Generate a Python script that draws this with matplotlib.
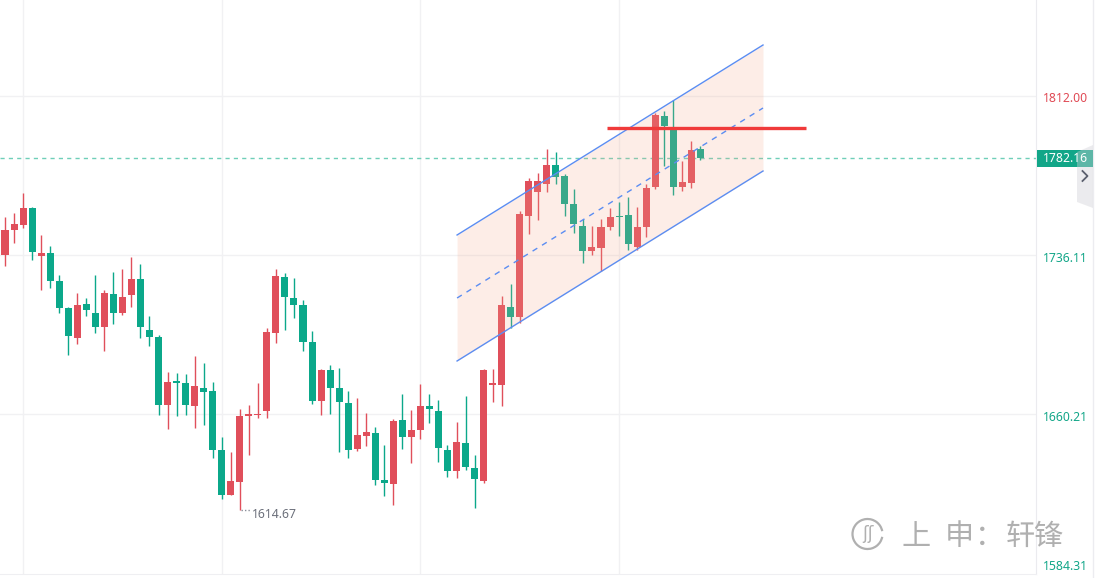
import matplotlib
matplotlib.use("Agg")
import matplotlib.pyplot as plt
import numpy as np
from matplotlib.patches import Rectangle, Polygon, Arc

# ---------------- data ----------------
opens = [1736.25, 1748.16, 1750.55, 1758.50, 1735.78, 1737.06, 1723.72, 1710.86, 1696.71, 1712.76,
         1708.47, 1701.95, 1717.53, 1708.62, 1717.19, 1724.67, 1700.38, 1697.04, 1664.78, 1676.07,
         1675.12, 1664.31, 1672.74, 1671.31, 1643.20, 1621.90, 1628.10, 1659.54, 1659.88, 1661.93,
         1699.09, 1725.63, 1715.62, 1712.29, 1694.66, 1666.69, 1681.32, 1672.74, 1665.59, 1643.82,
         1650.02, 1651.30, 1628.91, 1627.14, 1657.49, 1649.54, 1652.87, 1664.17, 1661.78, 1643.20,
         1633.34, 1646.53, 1634.62, 1628.57, 1674.31, 1674.31, 1711.19, 1706.71, 1754.83, 1766.27,
         1770.08, 1778.99, 1773.75, 1760.41, 1749.93, 1738.16, 1739.59, 1749.59, 1754.69, 1755.17,
         1740.06, 1749.59, 1768.65, 1802.34, 1795.67, 1768.65, 1770.56, 1786.61]
highs = [1754.22, 1756.12, 1765.65, 1758.98, 1745.64, 1740.40, 1726.58, 1711.33, 1718.00, 1715.62,
         1726.58, 1719.43, 1728.01, 1729.44, 1735.16, 1731.82, 1707.05, 1697.85, 1680.36, 1679.75,
         1679.27, 1687.84, 1684.65, 1675.60, 1649.39, 1642.25, 1662.88, 1664.64, 1675.12, 1701.19,
         1729.44, 1727.53, 1725.15, 1714.67, 1699.90, 1681.79, 1683.70, 1682.27, 1671.31, 1667.97,
         1660.83, 1654.16, 1645.58, 1657.97, 1670.03, 1662.26, 1674.64, 1670.03, 1667.02, 1645.58,
         1656.54, 1668.93, 1640.82, 1681.79, 1681.79, 1716.58, 1722.29, 1757.07, 1772.80, 1775.18,
         1786.61, 1785.18, 1774.70, 1767.56, 1753.26, 1749.93, 1753.26, 1758.50, 1761.36, 1763.74,
         1758.98, 1769.94, 1803.91, 1804.72, 1810.00, 1780.90, 1790.43, 1788.04]
lows = [1731.01, 1741.97, 1749.12, 1733.87, 1719.58, 1720.53, 1708.62, 1688.61, 1693.85, 1707.19,
        1699.09, 1690.51, 1703.38, 1707.67, 1711.48, 1696.71, 1692.89, 1660.02, 1653.35, 1659.54,
        1660.02, 1653.83, 1655.26, 1639.53, 1619.99, 1621.90, 1614.67, 1640.96, 1658.59, 1658.59,
        1694.32, 1700.52, 1706.24, 1690.51, 1665.26, 1660.02, 1660.50, 1642.39, 1639.53, 1642.87,
        1645.11, 1626.67, 1621.43, 1617.14, 1643.82, 1637.15, 1648.58, 1656.21, 1637.63, 1630.48,
        1630.00, 1633.81, 1615.71, 1627.62, 1666.21, 1664.31, 1701.19, 1703.57, 1746.26, 1752.93,
        1766.27, 1770.08, 1754.83, 1746.73, 1732.44, 1736.25, 1728.63, 1748.16, 1745.31, 1738.64,
        1738.64, 1744.83, 1767.70, 1778.51, 1764.84, 1766.75, 1768.17, 1781.50]
closes = [1748.02, 1750.88, 1758.50, 1737.68, 1737.06, 1723.87, 1711.00, 1697.66, 1712.29, 1710.05,
          1701.95, 1718.00, 1708.62, 1716.10, 1724.67, 1701.95, 1697.18, 1664.78, 1675.60, 1675.27,
          1664.78, 1673.69, 1670.98, 1643.34, 1621.90, 1628.43, 1659.40, 1660.35, 1660.35, 1699.42,
          1726.10, 1716.24, 1712.43, 1694.80, 1666.69, 1681.32, 1672.89, 1666.21, 1643.34, 1650.35,
          1651.78, 1629.05, 1627.62, 1657.02, 1649.54, 1652.73, 1664.17, 1662.88, 1644.29, 1633.34,
          1647.01, 1635.24, 1629.53, 1681.32, 1675.12, 1712.29, 1706.71, 1755.64, 1771.37, 1771.37,
          1778.99, 1773.42, 1760.55, 1751.02, 1738.16, 1739.92, 1749.45, 1754.22, 1754.22, 1741.49,
          1749.45, 1768.03, 1802.81, 1797.72, 1768.65, 1770.89, 1786.14, 1782.16]

axis_ticks = [1812.01, 1736.11, 1660.21, 1584.31]
axis_labels = ["1812.00", "1736.11", "1660.21", "1584.31"]
last_price = 1782.16
low_price = 1614.67
low_index = 26

channel_x = [50.06, 83.94]
channel_upper = [1745.64, 1836.17]
channel_lower = [1685.61, 1776.13]
channel_mid = [1715.62, 1806.15]

resist_x = [66.63, 88.7]
resist_y = 1796.6

# ---------------- style ----------------
RED = "#e04f5b"
GREEN = "#0ba88a"
TEAL = "#12a688"
BLUE = "#5b8df2"

W, H = 1099, 578
fig = plt.figure(figsize=(W / 100, H / 100), dpi=100)
fig.patch.set_facecolor("white")

ax_right_px = 1036
ax_bottom_px = 573.6
ax = fig.add_axes([0, (H - ax_bottom_px) / H, ax_right_px / W, ax_bottom_px / H])
ax.set_facecolor("white")

n = len(opens)
x = np.arange(n)
o = np.array(opens); c = np.array(closes); h = np.array(highs); l = np.array(lows)
up = c >= o
cols = np.where(up, RED, GREEN)

ax.vlines(x, l, h, colors=cols, linewidth=1.0, zorder=3)
body_bottom = np.minimum(o, c)
body_h = np.maximum(np.abs(c - o), 0.6)
ax.bar(x, body_h, bottom=body_bottom, width=0.78, color=cols, linewidth=0, zorder=3)

ax.set_xlim(-0.554, 114.17)
ax.set_ylim(1584.31, 1857.61)

# grid
ax.set_xticks([2, 24, 46, 68])
ax.set_yticks(axis_ticks[:-1])
ax.grid(True, color="#f1f1f3", linewidth=1.0, zorder=0)
ax.tick_params(length=0, labelbottom=False, labelleft=False)
for s in ["top", "left"]:
    ax.spines[s].set_visible(False)
ax.spines["right"].set_color("#ebebef")
ax.spines["bottom"].set_color("#efeff2")

# channel
xs = np.linspace(channel_x[0], channel_x[1], 50)
up_line = np.interp(xs, channel_x, channel_upper)
lo_line = np.interp(xs, channel_x, channel_lower)
ax.fill_between(xs, lo_line, up_line, color="#f5a88a", alpha=0.2, linewidth=0, zorder=4)
ax.plot(channel_x, channel_upper, color=BLUE, linewidth=1.0, zorder=5)
ax.plot(channel_x, channel_lower, color=BLUE, linewidth=1.0, zorder=5)
ax.plot(channel_x, channel_mid, color=BLUE, linewidth=1.0, dashes=(4, 4), zorder=5)

# resistance line
ax.plot(resist_x, [resist_y, resist_y], color="#f03a3a", linewidth=2.4, zorder=6,
        solid_capstyle="butt")

# last price dashed line
ax.axhline(last_price, color="#6fcfb8", linewidth=1.0, dashes=(3, 3), zorder=2)

# low marker
ax.plot([low_index + 0.1, low_index + 1.2], [low_price, low_price], color="#8a8e99",
        linewidth=1.0, linestyle=(0, (1, 1.5)), zorder=6)
ax.text(low_index + 1.3, low_price + 0.9, f"{low_price:.2f}", color="#6b6f7a",
        fontsize=8.8, family="Noto Sans", va="top", ha="left", zorder=6)

# ---------------- right price axis ----------------
def fy(price):
    disp = ax.transData.transform((0, price))
    return fig.transFigure.inverted().transform(disp)[1]

label_x = 1043 / W
label_colors = ["#e04a55", TEAL, TEAL, TEAL]
for t, lab, col in zip(axis_ticks, axis_labels, label_colors):
    yy = fy(t) - 3 / H
    if t == axis_ticks[-1]:
        yy = fy(t) + 7.5 / H
    fig.text(label_x, yy, lab, color=col, fontsize=8.8, family="Noto Sans",
             ha="left", va="center")

# last price box
yb = fy(last_price)
fig.patches.append(Rectangle((1036.5 / W, yb - 8.5 / H), 56 / W, 17 / H,
                             transform=fig.transFigure, facecolor=TEAL,
                             edgecolor="none", zorder=5))
fig.text(label_x, yb - 0.5 / H, f"{last_price:.2f}", color="white", fontsize=8.8,
         family="Noto Sans", ha="left", va="center", zorder=9)

# right border line
fig.add_artist(plt.Line2D([1093 / W, 1093 / W], [0, 1], color="#ececf0", linewidth=1.0))

# collapse tab with chevron
tab = [(1077, 152), (1093, 145), (1093, 208), (1077, 202)]
fig.patches.append(Polygon([(px / W, 1 - py / H) for px, py in tab], closed=True,
                           transform=fig.transFigure, facecolor="#cfcfd6",
                           edgecolor="none", alpha=0.4, zorder=7))
chev = [(1082.5, 171), (1087.5, 176), (1082.5, 181)]
fig.add_artist(plt.Line2D([p[0] / W for p in chev], [1 - p[1] / H for p in chev],
                          color="#5a5f6d", linewidth=1.3, zorder=8))

# ---------------- watermark ----------------
wm_col = "#b0b0b0"
cx, cy, r = 867.5, 534, 15
fig.patches.append(Arc((cx / W, 1 - cy / H), 2 * r / W, 2 * r / H, theta1=20, theta2=340,
                       transform=fig.transFigure, color=wm_col, linewidth=1.6, zorder=8))
fig.text(cx / W, 1 - cy / H, "ʃʃ", color=wm_col, fontsize=12, family="DejaVu Sans",
         ha="center", va="center", zorder=8)
for ch, px in [("上", 916), ("申", 959), ("：", 989), ("轩", 1020), ("锋", 1048)]:
    fig.text(px / W, 1 - 537 / H, ch, color=wm_col, fontsize=21,
             family=["Noto Sans CJK SC", "DejaVu Sans"], ha="center", va="center",
             zorder=8)

fig.savefig("out.png", dpi=100, facecolor="white")
